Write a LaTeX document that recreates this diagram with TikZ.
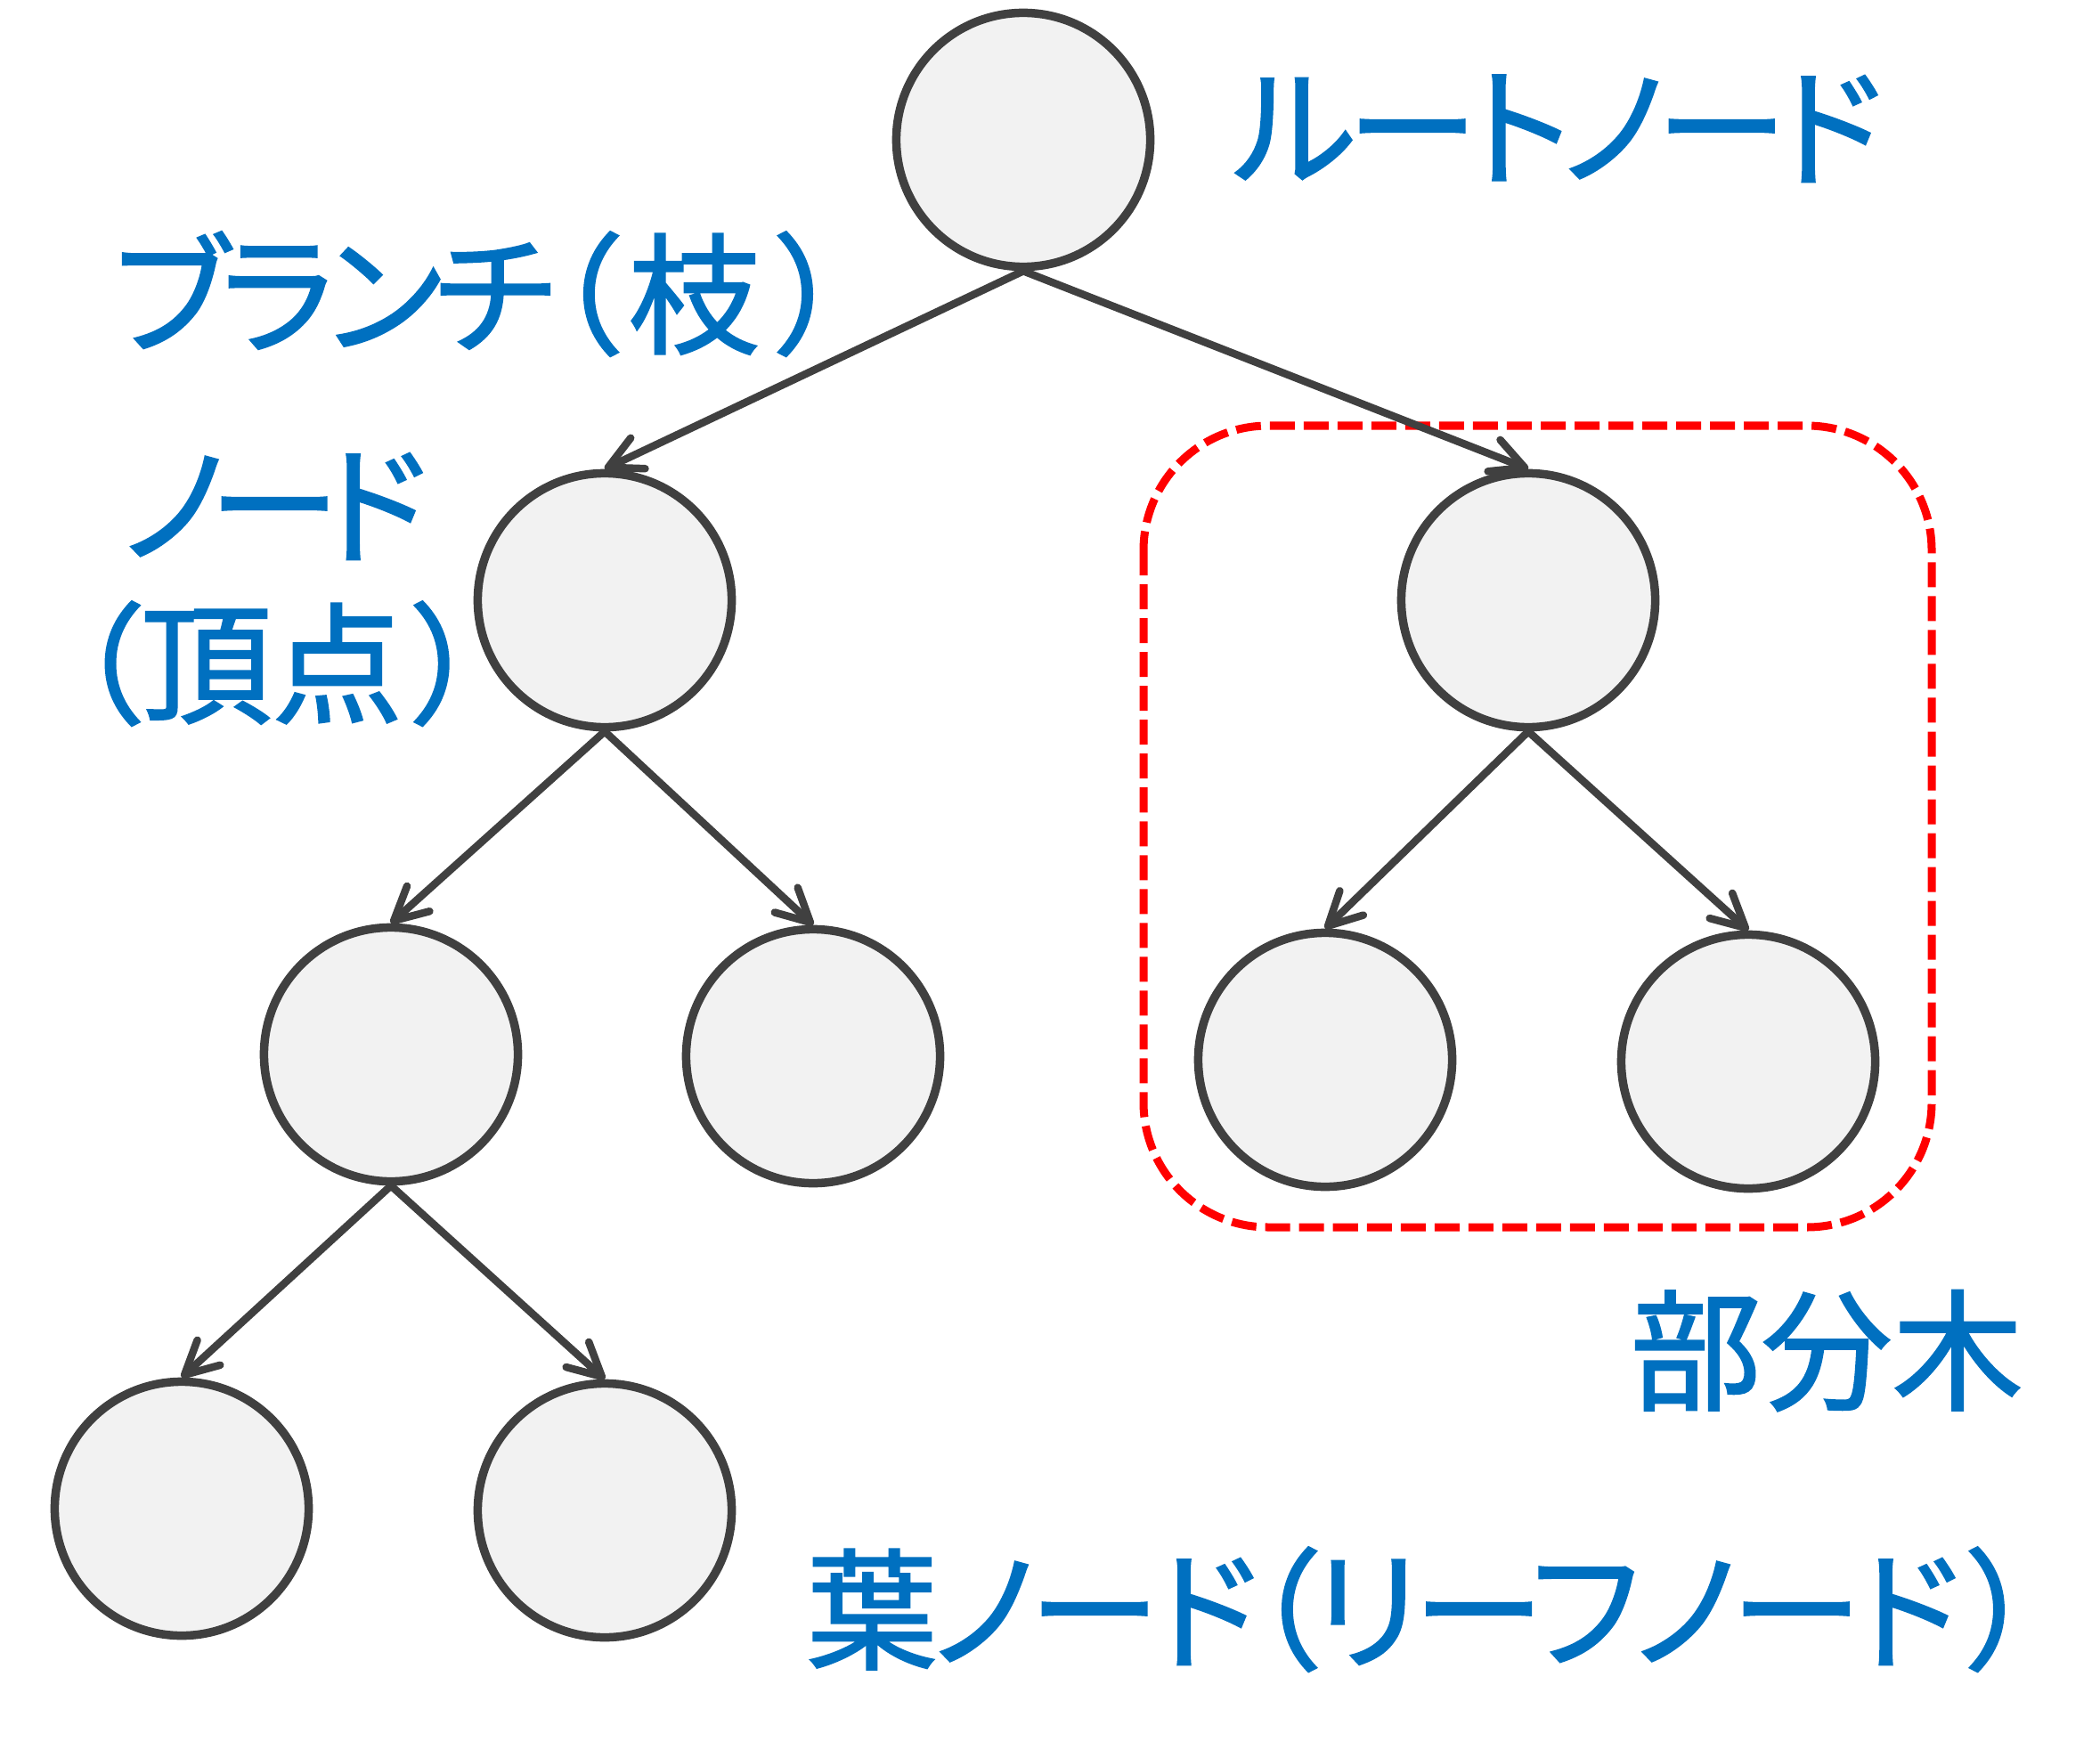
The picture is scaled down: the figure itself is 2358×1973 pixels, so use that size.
\documentclass[tikz,border=0pt]{standalone}
\usepackage{fontspec}
\newfontfamily\jp{Noto Sans CJK JP}[RawFeature=+palt, FakeBold=1.5]
\newfontfamily\jpk{Noto Sans CJK JP}[RawFeature=+palt, FakeBold=1.5, LetterSpace=-6]
\newfontfamily\jpl{Noto Sans CJK JP}[RawFeature=+palt, FakeBold=1.5, LetterSpace=-4]
\newfontfamily\jpn{Noto Sans CJK JP}[RawFeature=+palt, FakeBold=1.5, LetterSpace=-12]
\usetikzlibrary{arrows.meta}
\definecolor{nodeline}{HTML}{404040}
\definecolor{nodefill}{HTML}{F2F2F2}
\definecolor{labelblue}{HTML}{0070C0}
\definecolor{subred}{HTML}{FF0000}
\tikzset{
  treenode/.style={circle, draw=nodeline, fill=nodefill, line width=0.095cm,
    minimum size=2.85cm, inner sep=0pt},
  branch/.style={draw=nodeline, line width=0.085cm, line cap=round,
    -{Straight Barb[length=0.37cm, width=0.38cm, line cap=round, line join=round]}},
  lbl/.style={text=labelblue, font=\fontsize{41.8pt}{50pt}\selectfont,
    inner sep=0pt, anchor=base west},
  subtree/.style={draw=subred, line width=0.09cm, dash pattern=on 0.28cm off 0.10cm,
    rounded corners=1.4cm}
}
\begin{document}
\begin{tikzpicture}[x=0.01cm, y=-0.01cm]
\useasboundingbox[fill=white] (0,0) rectangle (2358,1973);
% subtree frame
\draw[subtree] (1284,478) rectangle (2169,1378);
% nodes
\node[treenode] (r) at (1149,157) {};
\node[treenode] (a) at (679,674) {};
\node[treenode] (b) at (1716,674) {};
\node[treenode] (c) at (439,1184) {};
\node[treenode] (d) at (913,1186) {};
\node[treenode] (e) at (1488,1190) {};
\node[treenode] (f) at (1963,1192) {};
\node[treenode] (g) at (204,1694) {};
\node[treenode] (h) at (679,1696) {};
% edges
\draw[branch] (r.south) -- (a.north);
\draw[branch] (r.south) -- (b.north);
\draw[branch] (a.south) -- (c.north);
\draw[branch] (a.south) -- (d.north);
\draw[branch] (b.south) -- (e.north);
\draw[branch] (b.south) -- (f.north);
\draw[branch] (c.south) -- (g.north);
\draw[branch] (c.south) -- (h.north);
% labels
\node[lbl] (lroot) at (1384,198) {\jpk ルートノード};
\node[lbl] (lbranch) at (127,386) {{\jpk ブランチ}{\jp （\kern0.1cm 枝\kern0.2cm ）}};
\node[lbl] (lnode) at (137,622) {\jpn ノード};
\node[lbl] (lvertex) at (84,801) {\jp （頂点\kern0.12cm ）};
\node[lbl] (lsub) at (1830,1572) {\jp 部分木};
\node[lbl] (lleaf) at (905,1863) {\jpl 葉ノード（リーフノード\kern0.1cm ）};
\end{tikzpicture}
\end{document}
